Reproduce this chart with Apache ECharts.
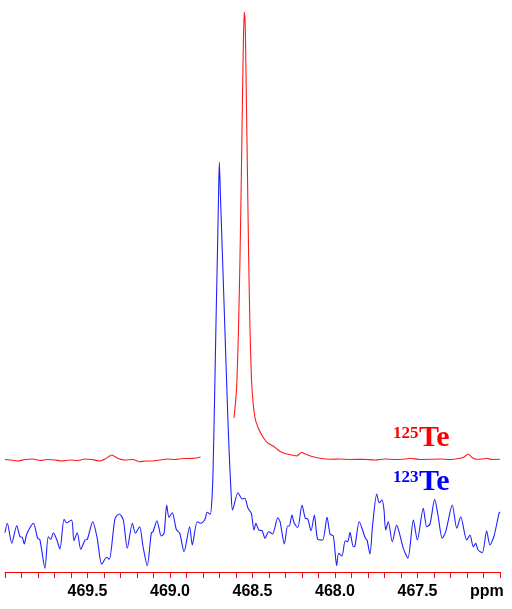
<!DOCTYPE html>
<html>
<head>
<meta charset="utf-8">
<script src="https://cdn.jsdelivr.net/npm/echarts@6/dist/echarts.min.js"></script>
<style>
html,body{margin:0;padding:0;background:#fff;}
#chart{width:512px;height:609px;}
</style>
</head>
<body>
<div id="chart"></div>
<script>
// Chemical shift axis tick labels (ppm)
const tickLabels = ['469.5', '469.0', '468.5', '468.0', '467.5'];

// 123Te spectrum (blue): chemical shift (ppm) and intensity (a.u.)
const blueShift = [470.000, 469.986, 469.959, 469.929, 469.909, 469.895, 469.883, 469.868, 469.828, 469.802,
  469.788, 469.758, 469.738, 469.723, 469.707, 469.687, 469.667, 469.642, 469.626, 469.596,
  469.582, 469.562, 469.541, 469.515, 469.501, 469.468, 469.441, 469.414, 469.384, 469.368,
  469.333, 469.307, 469.283, 469.259, 469.228, 469.210, 469.184, 469.164, 469.138, 469.113,
  469.103, 469.079, 469.053, 469.036, 469.020, 469.006, 468.986, 468.962, 468.941, 468.915,
  468.881, 468.865, 468.835, 468.814, 468.790, 468.774, 468.756, 468.745, 468.739, 468.730,
  468.721, 468.712, 468.706, 468.701, 468.695, 468.688, 468.677, 468.667, 468.655, 468.642,
  468.630, 468.621, 468.588, 468.562, 468.547, 468.527, 468.507, 468.491, 468.479, 468.462,
  468.442, 468.424, 468.402, 468.378, 468.347, 468.333, 468.307, 468.287, 468.277, 468.261,
  468.247, 468.226, 468.200, 468.180, 468.165, 468.145, 468.125, 468.105, 468.075, 468.048,
  468.030, 468.010, 467.990, 467.978, 467.958, 467.938, 467.923, 467.909, 467.889, 467.879,
  467.853, 467.816, 467.806, 467.788, 467.772, 467.747, 467.732, 467.715, 467.703, 467.693,
  467.677, 467.653, 467.626, 467.612, 467.586, 467.558, 467.525, 467.501, 467.465, 467.444,
  467.424, 467.396, 467.376, 467.350, 467.329, 467.289, 467.262, 467.238, 467.202, 467.182,
  467.162, 467.147, 467.133, 467.107, 467.081, 467.061, 467.036, 467.006, 467.000];
const blueIntensity = [-0.7, 8.7, -11.3, 6.3, -4.7, -5.3, -12, -2, 8.7, -6.3,
  -8, -36.3, -4.7, -7.3, -0.7, -7.3, -17, 12.7, 9.3, 12,
  -8.7, -0.7, -17.3, -8, -7.3, 10.3, -6.3, -32.3, -25.3, -27.3,
  13.7, 18, 12, -16.3, 8.7, -1.3, 5.3, -14, -33.7, -0.7,
  0.3, 11.3, -4, -1.3, 27, 14.7, 19.3, 2.7, -1.3, -19.7,
  5.3, -13, 10.3, 8.7, 12, 19.7, 17.7, 35, 62, 132,
  211, 283, 335, 370, 340, 305, 251, 201, 141, 82,
  40, 22, 39.3, 33, 33.7, 23.7, 18.7, 2, 8.7, 2,
  1.3, -6.3, 0.3, -2, 14.3, 10.3, -12, 6, 6, 17,
  8.7, 4.3, 27, 13.7, 13, 1.3, 17, -7.3, -8, 14.7,
  -2, -4, -33.7, -21.3, -24, -8.7, -9.7, -0.3, -14.7, -14,
  10.3, -6.3, -8, -22, 7, 38, 29.3, 32, 22, 2,
  10.3, -9.7, 7, 0.3, -16.3, -26.3, 12, -8, 23.7, 5.3,
  8, 32.7, 17, -6.3, 0.3, 27, 3.7, 15.3, -8, -3,
  -14.7, -11.3, -18, -20.7, 1.3, -13, -4, 18.7, 20];

// 125Te spectrum (red): chemical shift (ppm) and intensity (a.u.); null = gap in trace
const redShift = [470.000, 469.970, 469.921, 469.879, 469.830, 469.788, 469.739, 469.697, 469.655, 469.606,
  469.558, 469.515, 469.473, 469.424, 469.394, 469.353, 469.315, 469.273, 469.224, 469.188,
  469.145, 469.103, 469.061, 469.018, 468.970, 468.921, 468.879, 468.842, 468.815, 468.700,
  468.612, 468.597, 468.585, 468.576, 468.568, 468.561, 468.555, 468.550, 468.544, 468.538,
  468.530, 468.523, 468.515, 468.506, 468.495, 468.482, 468.465, 468.444, 468.424, 468.404,
  468.374, 468.352, 468.333, 468.303, 468.262, 468.232, 468.215, 468.202, 468.188, 468.172,
  468.139, 468.091, 468.030, 467.970, 467.909, 467.830, 467.758, 467.697, 467.636, 467.576,
  467.545, 467.485, 467.424, 467.364, 467.303, 467.242, 467.218, 467.192, 467.170, 467.141,
  467.109, 467.081, 467.048, 467.000];
const redIntensity = [0.5, 0, -1, 0.5, 1, -0.5, 0.5, 0, -1, 0,
  -0.5, 1, 0.5, -1, 1, 5, 1.5, 0, 0.5, -1.7,
  -1, -1, 0, 1, 0.5, 1.5, 1.5, 2, 3, null,
  42, 70, 130, 200, 280, 360, 420, 448, 435, 370,
  280, 200, 130, 80, 55, 40, 32, 25, 20, 16.5,
  14, 11, 8.5, 6.5, 5, 4, 6, 7.7, 6.5, 5.5,
  3.5, 1.7, 0.7, 1, 0.5, 0.7, 0, 1, 0.5, 1,
  1.7, 0.5, 0.7, 1, 0.5, 1.7, 3, 6, 2.5, 0.7,
  1, 1.7, 0.5, 0.7];

// Stacked-plot vertical offsets of each spectrum baseline (layout)
const blueOffset = 40;
const redOffset = 112;

function build(shift, inten, off) {
  return shift.map((s, i) => [s, inten[i] === null ? '-' : inten[i] + off]);
}

const chart = echarts.init(document.getElementById('chart'), null, {renderer: 'canvas'});
chart.setOption({
  animation: false,
  backgroundColor: '#ffffff',
  grid: {left: 5, right: 12, top: 10, bottom: 37, containLabel: false},
  xAxis: {
    type: 'value',
    min: 467.0,
    max: 470.0,
    interval: 0.5,
    inverse: true,
    axisLine: {show: true, lineStyle: {color: '#ff0000', width: 1}},
    axisTick: {show: true, length: 6, lineStyle: {color: '#ff0000', width: 1}},
    minorTick: {show: true, splitNumber: 5, length: 6, lineStyle: {color: '#ff0000', width: 1}},
    splitLine: {show: false},
    minorSplitLine: {show: false},
    axisLabel: {
      margin: 12,
      color: '#000000',
      fontFamily: 'Liberation Sans',
      fontWeight: 'bold',
      fontSize: 16,
      formatter: function (v) {
        const t = v.toFixed(1);
        return tickLabels.indexOf(t) >= 0 ? t : '';
      }
    }
  },
  yAxis: {
    type: 'value',
    min: 0,
    max: 562,
    show: false
  },
  series: [
    {
      name: '125Te',
      type: 'line',
      data: build(redShift, redIntensity, redOffset),
      showSymbol: false,
      symbol: 'none',
      smooth: 0.2,
      connectNulls: false,
      lineStyle: {color: '#ff1a1a', width: 1.1},
      z: 2
    },
    {
      name: '123Te',
      type: 'line',
      data: build(blueShift, blueIntensity, blueOffset),
      showSymbol: false,
      symbol: 'none',
      smooth: 0.25,
      lineStyle: {color: '#2020ff', width: 1.1},
      z: 3
    }
  ],
  graphic: [
    {type: 'text', left: 393, top: 425, style: {text: '125', fill: '#ff0000', font: 'bold 17px "Liberation Serif"'}},
    {type: 'text', left: 419, top: 423, style: {text: 'Te', fill: '#ff0000', font: 'bold 30px "Liberation Serif"'}},
    {type: 'text', left: 393, top: 469, style: {text: '123', fill: '#0000ff', font: 'bold 17px "Liberation Serif"'}},
    {type: 'text', left: 419, top: 467, style: {text: 'Te', fill: '#0000ff', font: 'bold 30px "Liberation Serif"'}},
    {type: 'text', left: 470, top: 584, style: {text: 'ppm', fill: '#000000', font: 'bold 16px "Liberation Sans"'}}
  ]
});
</script>
</body>
</html>
